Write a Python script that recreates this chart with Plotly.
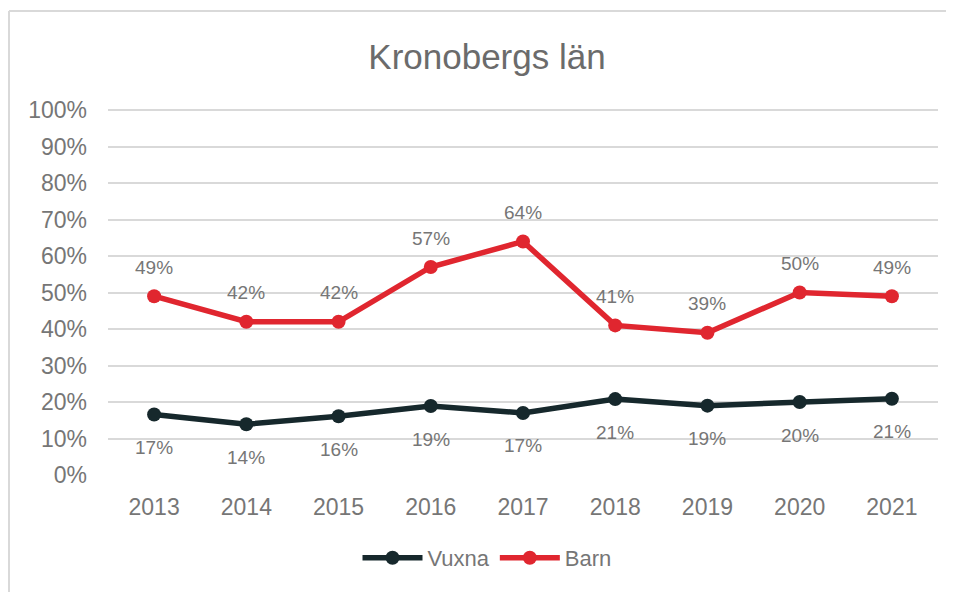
import plotly.graph_objects as go

years = ["2013", "2014", "2015", "2016", "2017", "2018", "2019", "2020", "2021"]
vuxna = [0.166, 0.139, 0.161, 0.189, 0.170, 0.208, 0.190, 0.200, 0.209]
barn = [0.49, 0.42, 0.42, 0.57, 0.64, 0.41, 0.39, 0.50, 0.49]
vuxna_labels = ["17%", "14%", "16%", "19%", "17%", "21%", "19%", "20%", "21%"]
barn_labels = ["49%", "42%", "42%", "57%", "64%", "41%", "39%", "50%", "49%"]
y_ticks = [i / 10 for i in range(11)]
y_tick_labels = [f"{i*10}%" for i in range(11)]

DARK = "#16282c"
RED = "#e0262f"
TXT = "#767676"
FONT = "Liberation Sans"

W, H = 954, 592
OFF = 8  # page body margin
L, R, T, B = 100, 24, 101, 125
pw = W - L - R
ph = H - T - B

def px_x(x):
    return (x - OFF - L) / pw

def px_y(y):
    return (H - B - (y - OFF)) / ph

fig = go.Figure()
fig.add_trace(go.Scatter(
    x=years, y=vuxna, name="Vuxna", mode="lines+markers",
    line=dict(color=DARK, width=5.5), marker=dict(color=DARK, size=14),
))
fig.add_trace(go.Scatter(
    x=years, y=barn, name="Barn", mode="lines+markers",
    line=dict(color=RED, width=5.5), marker=dict(color=RED, size=14),
))

for i, (y, t) in enumerate(zip(barn, barn_labels)):
    fig.add_annotation(x=i, y=y, text=t, showarrow=False, yshift=29,
                       font=dict(family=FONT, size=19, color=TXT))
for i, (y, t) in enumerate(zip(vuxna, vuxna_labels)):
    fig.add_annotation(x=i, y=y, text=t, showarrow=False, yshift=-33,
                       font=dict(family=FONT, size=19, color=TXT))

# chart border (top and left edges visible)
fig.add_shape(type="line", xref="paper", yref="paper",
              x0=px_x(9), x1=px_x(980), y0=px_y(11), y1=px_y(11),
              line=dict(color="#d9d9d9", width=2))
fig.add_shape(type="line", xref="paper", yref="paper",
              x0=px_x(9), x1=px_x(9), y0=px_y(11), y1=px_y(620),
              line=dict(color="#d9d9d9", width=2))

fig.update_layout(
    width=W, height=H,
    margin=dict(l=L, r=R, t=T, b=B, autoexpand=False),
    paper_bgcolor="white", plot_bgcolor="white",
    font=dict(family=FONT, color=TXT),
    title=dict(text="Kronobergs län", x=px_x(487), xref="paper", xanchor="center",
               y=1 - (57 - OFF) / H, yref="container", yanchor="middle",
               font=dict(family=FONT, size=35, color="#6b6b6b")),
    showlegend=True,
    legend=dict(orientation="h", x=px_x(487), xanchor="center",
                y=px_y(558), yanchor="middle",
                font=dict(family=FONT, size=22, color=TXT),
                itemwidth=60),
    xaxis=dict(type="category", range=[-0.5, 8.5], showgrid=False, zeroline=False,
               showline=False,
               tickfont=dict(family=FONT, size=23, color=TXT),
               ticklabelstandoff=16),
    yaxis=dict(range=[0, 1.003], tickvals=y_ticks, ticktext=y_tick_labels,
               showgrid=True, gridcolor="#d9d9d9", gridwidth=1.5,
               zeroline=False, showline=False,
               tickfont=dict(family=FONT, size=23, color=TXT),
               ticklabelstandoff=20),
)

fig.write_html("out.html")
